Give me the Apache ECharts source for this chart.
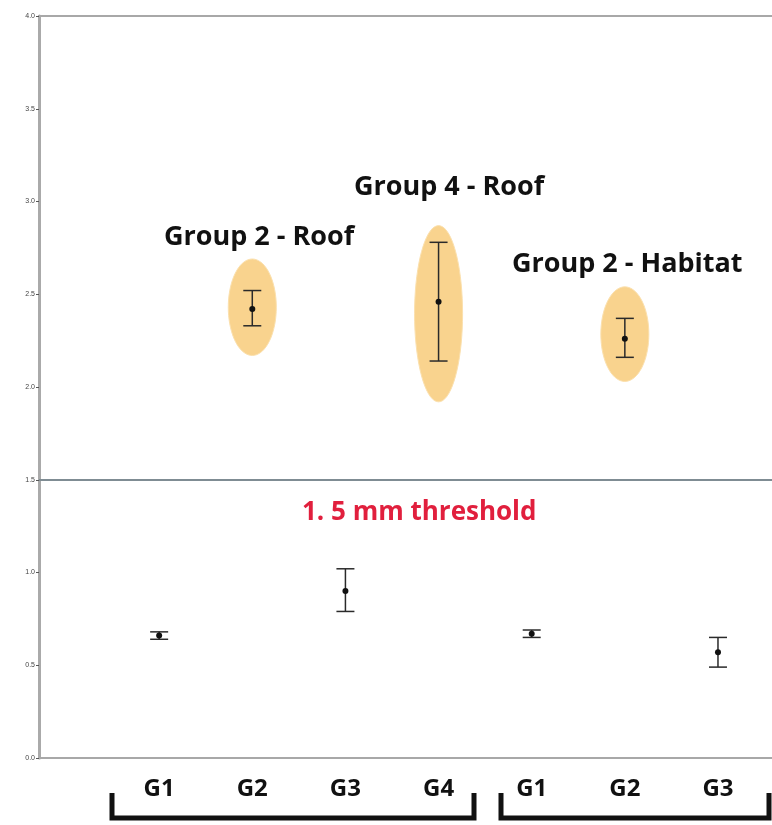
<!DOCTYPE html>
<html><head><meta charset="utf-8">
<script src="https://cdn.jsdelivr.net/npm/echarts@6/dist/echarts.min.js"></script>
<style>html,body{margin:0;padding:0;background:#fff}#c{width:772px;height:825px}</style>
</head><body><div id="c"></div>
<script>
// ---- data ----
const categories = ['G1', 'G2', 'G3', 'G4', 'G1', 'G2', 'G3'];
const means = [0.66, 2.42, 0.90, 2.46, 0.67, 2.26, 0.57];
const lows  = [0.64, 2.33, 0.79, 2.14, 0.65, 2.16, 0.49];
const highs = [0.68, 2.52, 1.02, 2.78, 0.69, 2.37, 0.65];
const threshold = 1.5;
const thresholdLabel = '1. 5 mm threshold';
const highlightIdx  = [1, 3, 5];
const highlightLow  = [2.17, 1.92, 2.03];
const highlightHigh = [2.69, 2.87, 2.54];
const highlightNames = ['Group 2 - Roof', 'Group 4 - Roof', 'Group 2 - Habitat'];
const yTickStep = 0.5;

// ---- build ----
const barData = categories.map((c, i) => [i + 1, means[i], lows[i], highs[i]]);
const hlData = highlightIdx.map((k, j) => [k + 1, highlightLow[j], highlightHigh[j]]);
const chart = echarts.init(document.getElementById('c'));

function ellipsePoints(cx, cy, rx, ry) {
  const pts = [];
  for (let a = 0; a < 72; a++) {
    const t = a / 72 * Math.PI * 2;
    pts.push([cx + rx * Math.cos(t), cy + ry * Math.sin(t)]);
  }
  return pts;
}
const labelFont = { fontSize: 27, fontWeight: 'bold', fontFamily: 'Open Sans', fill: '#111', align: 'left', verticalAlign: 'middle' };

const option = {
  backgroundColor: '#fff',
  animation: false,
  grid: { left: 39, right: 0, top: 16, bottom: 67, containLabel: false, outerBoundsMode: 'none' },
  xAxis: [{
    type: 'value', min: -0.29, max: 7.58,
    axisLine: { show: true, onZero: false, lineStyle: { color: '#a8a8a8', width: 2 } },
    axisTick: { show: false },
    splitLine: { show: false },
    axisLabel: {
      customValues: categories.map((c, i) => i + 1),
      formatter: v => categories[Math.round(v) - 1] || '',
      fontSize: 24, fontWeight: 'bold', color: '#111',
      fontFamily: 'Open Sans', margin: 19
    }
  }, {
    type: 'value', min: -0.29, max: 7.58, position: 'top',
    axisLine: { show: true, onZero: false, lineStyle: { color: '#a8a8a8', width: 2 } },
    axisTick: { show: false }, axisLabel: { show: false }, splitLine: { show: false }
  }],
  yAxis: {
    type: 'value', min: 0, max: 4, interval: yTickStep,
    axisLine: { show: true, onZero: false, lineStyle: { color: '#aaa', width: 3 } },
    axisTick: { show: true, length: 3, lineStyle: { color: '#555' } },
    splitLine: { show: false },
    axisLabel: { formatter: v => v.toFixed(1), fontSize: 7, color: '#444', margin: 4 }
  },
  series: [{
    type: 'custom',
    data: hlData,
    z: 1,
    renderItem(params, api) {
      const x = api.value(0);
      const pT = api.coord([x, api.value(2)]);
      const pB = api.coord([x, api.value(1)]);
      const cy = (pT[1] + pB[1]) / 2, ry = (pB[1] - pT[1]) / 2;
      return {
        type: 'polygon',
        shape: { points: ellipsePoints(pT[0], cy, 24, ry) },
        style: { fill: '#f9d38e', stroke: '#fbe0ad', lineWidth: 1 }
      };
    }
  }, {
    type: 'custom',
    data: barData,
    z: 3,
    renderItem(params, api) {
      const x = api.value(0);
      const pM = api.coord([x, api.value(1)]);
      const pL = api.coord([x, api.value(2)]);
      const pH = api.coord([x, api.value(3)]);
      const cw = 9;
      const st = { stroke: '#2a2a2a', lineWidth: 1.5 };
      return {
        type: 'group',
        children: [
          { type: 'line', shape: { x1: pL[0], y1: pL[1], x2: pH[0], y2: pH[1] }, style: st },
          { type: 'line', shape: { x1: pL[0] - cw, y1: pL[1], x2: pL[0] + cw, y2: pL[1] }, style: st },
          { type: 'line', shape: { x1: pH[0] - cw, y1: pH[1], x2: pH[0] + cw, y2: pH[1] }, style: st },
          { type: 'circle', shape: { cx: pM[0], cy: pM[1], r: 3 }, style: { fill: '#111' } }
        ]
      };
    },
    markLine: {
      silent: true, symbol: 'none',
      lineStyle: { color: '#7f8c93', width: 2, type: 'solid' },
      label: { show: false },
      data: [{ yAxis: threshold }]
    }
  }],
  graphic: [
    { type: 'text', x: 164, y: 237, style: Object.assign({ text: highlightNames[0] }, labelFont) },
    { type: 'text', x: 354, y: 187, style: Object.assign({ text: highlightNames[1] }, labelFont) },
    { type: 'text', x: 512, y: 264, style: Object.assign({ text: highlightNames[2] }, labelFont) },
    { type: 'text', x: 302, y: 513, style: Object.assign({ text: thresholdLabel }, labelFont, { fontSize: 26, fill: '#e11f3d' }) },
    { type: 'polyline', shape: { points: [[112, 793], [112, 818], [474, 818], [474, 793]] }, style: { stroke: '#111', lineWidth: 5, fill: null } },
    { type: 'polyline', shape: { points: [[501, 793], [501, 818], [769, 818], [769, 793]] }, style: { stroke: '#111', lineWidth: 5, fill: null } }
  ]
};
chart.setOption(option);
</script>
</body></html>
